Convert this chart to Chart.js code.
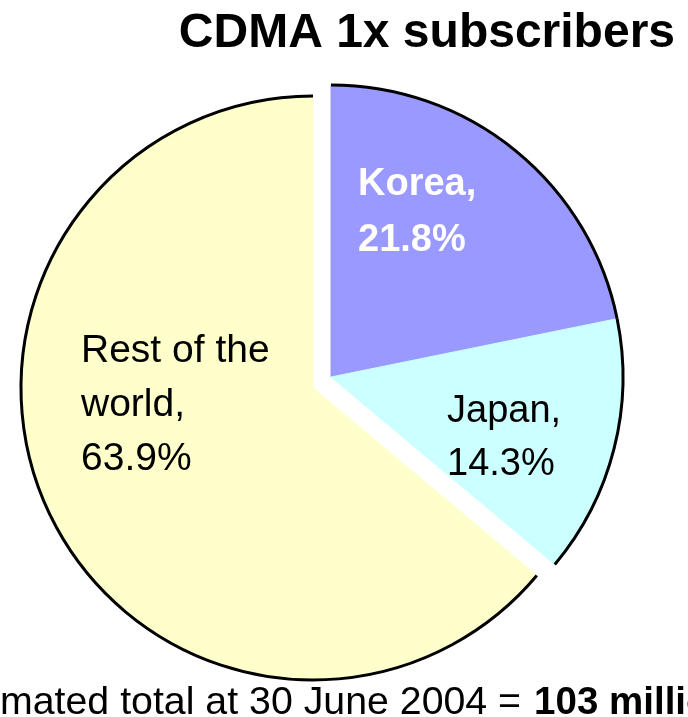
<!DOCTYPE html>
<html lang="en">
<head>
    <meta charset="UTF-8">
    <title>CDMA 1x subscribers</title>
    <script src="https://cdn.jsdelivr.net/npm/chart.js"></script>
    <style>
        body {
            margin: 0;
            background: #fff;
        }
        .chart-container {
            width: 688px;
            height: 717px;
        }
    </style>
</head>
<body>
    <div class="chart-container">
        <canvas id="myChart" width="688" height="717"></canvas>
    </div>
    <script>
        // data
        const regions = ['Korea', 'Japan', 'Rest of the world'];
        const shares = [21.8, 14.3, 63.9];
        const labelLines = [['Korea,', '21.8%'], ['Japan,', '14.3%'], ['Rest of the', 'world,', '63.9%']];
        const pulledOut = [true, true, false];

        const colors = ['#9999ff', '#ccffff', '#ffffcc'];
        const FONT = '"Liberation Sans", Arial, sans-serif';

        // Korea + Japan are pulled out together as one block
        const pull = { x: 18, y: -11 };

        // where each label sits, relative to the pie centre
        const labelSpots = [
            { dx: 45, dy: -193, lh: 56, size: 38, bold: true, color: '#fff' },
            { dx: 134, dy: 34, lh: 53, size: 38, bold: false, color: '#000' },
            { dx: -232, dy: -26, lh: 54, size: 39, bold: false, color: '#000' }
        ];

        const piePlugin = {
            id: 'piePlugin',
            beforeDatasetsDraw(chart) {
                const area = chart.chartArea;
                const cx = (area.left + area.right) / 2;
                const cy = (area.top + area.bottom) / 2;
                chart.getDatasetMeta(0).data.forEach((arc, i) => {
                    arc.x = cx + (pulledOut[i] ? pull.x : 0);
                    arc.y = cy + (pulledOut[i] ? pull.y : 0);
                });
            },
            afterDatasetsDraw(chart) {
                const ctx = chart.ctx;
                const arcs = chart.getDatasetMeta(0).data;
                const area = chart.chartArea;
                const cx = (area.left + area.right) / 2;
                const cy = (area.top + area.bottom) / 2;

                // outline only on the round edge
                ctx.save();
                ctx.strokeStyle = '#000';
                ctx.lineWidth = 3;
                arcs.forEach(arc => {
                    ctx.beginPath();
                    ctx.arc(arc.x, arc.y, arc.outerRadius, arc.startAngle, arc.endAngle);
                    ctx.stroke();
                });

                // slice labels
                ctx.textAlign = 'left';
                ctx.textBaseline = 'alphabetic';
                labelLines.forEach((lines, i) => {
                    const s = labelSpots[i];
                    ctx.font = (s.bold ? 'bold ' : '') + s.size + 'px ' + FONT;
                    ctx.fillStyle = s.color;
                    lines.forEach((line, j) => {
                        ctx.fillText(line, cx + s.dx, cy + s.dy + j * s.lh);
                    });
                });
                ctx.restore();
            },
            afterDraw(chart) {
                const ctx = chart.ctx;
                ctx.save();
                ctx.fillStyle = '#000';
                ctx.textBaseline = 'alphabetic';

                ctx.font = 'bold 48px ' + FONT;
                ctx.textAlign = 'right';
                ctx.fillText('CDMA 1x subscribers', 675, 47);

                // footer runs off both edges of the picture
                const part1 = 'Estimated total at 30 June 2004 =';
                const part2 = '103 million';
                const gap = 13;
                ctx.textAlign = 'left';
                ctx.font = '39.3px ' + FONT;
                const x0 = -ctx.measureText('Esti').width;
                const w1 = ctx.measureText(part1).width;
                ctx.fillText(part1, x0, 714);
                ctx.font = 'bold 38.5px ' + FONT;
                ctx.fillText(part2, x0 + w1 + gap, 714);
                ctx.restore();
            }
        };

        const ctx = document.getElementById('myChart').getContext('2d');
        new Chart(ctx, {
            type: 'pie',
            data: {
                labels: regions,
                datasets: [{
                    data: shares,
                    backgroundColor: colors,
                    borderColor: colors,
                    borderWidth: 1,
                    radius: 292
                }]
            },
            options: {
                responsive: false,
                animation: false,
                events: [],
                layout: {
                    padding: { left: 0, right: 62, top: 79, bottom: 20 }
                },
                plugins: {
                    legend: { display: false },
                    tooltip: { enabled: false },
                    title: { display: false }
                }
            },
            plugins: [piePlugin]
        });
    </script>
</body>
</html>
